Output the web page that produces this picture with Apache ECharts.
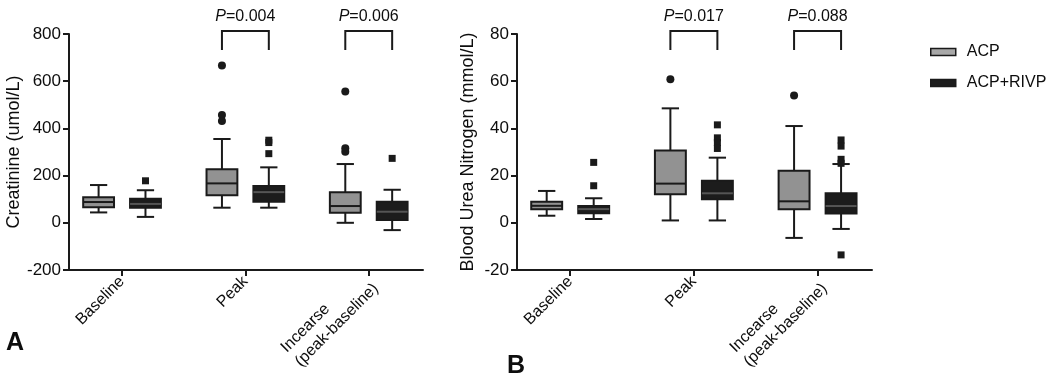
<!DOCTYPE html>
<html>
<head>
<meta charset="utf-8">
<script src="https://cdn.jsdelivr.net/npm/echarts@6/dist/echarts.min.js"></script>
<style>
  html, body { margin: 0; padding: 0; background: #fff; }
  #chart { width: 1049px; height: 381px; }
</style>
</head>
<body>
<div id="chart"></div>
<script>
const categories = ['Baseline', 'Peak', 'Incearse\n(peak-baseline)']

// boxes: [min, Q1, median, Q3, max] for each category
const creaAcp = [[44, 66, 88, 108, 160], [64, 117, 167, 227, 355], [0, 43, 71, 129, 249]]
const creaRivp = [[25, 64, 80, 102, 138], [64, 89, 130, 156, 235], [-31, 12, 47, 89, 140]]
const bunAcp = [[3.0, 5.7, 7.2, 8.9, 13.5], [1.0, 12.1, 16.6, 30.6, 48.5], [-6.4, 5.7, 9.1, 22.1, 41.0]]
const bunRivp = [[1.6, 4.0, 5.8, 7.1, 10.4], [1.0, 10.0, 12.5, 17.8, 27.6], [-2.6, 3.9, 7.1, 12.5, 24.9]]

// outliers: [category index, value]
const creaAcpOut = [[1, 667], [1, 457], [1, 431], [2, 556], [2, 316], [2, 301]]
const creaRivpOut = [[0, 178], [1, 350], [1, 340], [1, 293], [2, 273]]
const bunAcpOut = [[1, 60.8], [2, 53.9]]
const bunRivpOut = [[0, 25.6], [0, 15.7], [1, 41.5], [1, 36], [1, 34], [1, 31.5],
  [2, 35.1], [2, 32.5], [2, 26.9], [2, 25.2], [2, -13.6]]

// p values: [category index, text]
const creaP = [[1, '0.004'], [2, '0.006']]
const bunP = [[1, '0.017'], [2, '0.088']]

const FONT = 'Liberation Sans, Arial, Helvetica, sans-serif'
const INK = '#1a1a1a'
const TXT = '#0d0d0d'
const OFFSET = 0.19   // group offset from category centre, axis units
const BOX_W = 0.25
const CAP_W = 0.14

const chart = echarts.init(document.getElementById('chart'))

function boxRender(offset, fill, medianColor) {
  return (params, api) => {
    const x = api.value(0) + offset
    const p = (v) => api.coord([x, v])
    const left = api.coord([x - BOX_W / 2, 0])[0]
    const right = api.coord([x + BOX_W / 2, 0])[0]
    const capL = api.coord([x - CAP_W / 2, 0])[0]
    const capR = api.coord([x + CAP_W / 2, 0])[0]
    const pMin = p(api.value(1)), pQ1 = p(api.value(2)), pMed = p(api.value(3))
    const pQ3 = p(api.value(4)), pMax = p(api.value(5))
    const ln = { stroke: INK, lineWidth: 2 }
    return {
      type: 'group',
      children: [
        { type: 'line', shape: { x1: pMin[0], y1: pMin[1], x2: pQ1[0], y2: pQ1[1] }, style: ln },
        { type: 'line', shape: { x1: pQ3[0], y1: pQ3[1], x2: pMax[0], y2: pMax[1] }, style: ln },
        { type: 'line', shape: { x1: capL, y1: pMin[1], x2: capR, y2: pMin[1] }, style: ln },
        { type: 'line', shape: { x1: capL, y1: pMax[1], x2: capR, y2: pMax[1] }, style: ln },
        {
          type: 'rect',
          shape: { x: left, y: pQ3[1], width: right - left, height: pQ1[1] - pQ3[1] },
          style: { fill: fill, stroke: INK, lineWidth: 2 }
        },
        { type: 'line', shape: { x1: left, y1: pMed[1], x2: right, y2: pMed[1] }, style: { stroke: medianColor, lineWidth: 2 } }
      ]
    }
  }
}

function bracketRender(pList) {
  return (params, api) => {
    const c = api.value(0)
    const xL = api.coord([c - OFFSET, 0])[0]
    const xR = api.coord([c + OFFSET, 0])[0]
    const top = params.coordSys.y - 3
    const bottom = params.coordSys.y + 16
    const ln = { stroke: INK, lineWidth: 2, fill: null }
    return {
      type: 'group',
      children: [
        { type: 'polyline', shape: { points: [[xL, bottom], [xL, top], [xR, top], [xR, bottom]] }, style: ln },
        {
          type: 'text',
          x: (xL + xR) / 2,
          y: params.coordSys.y - 17,
          style: {
            text: '{i|P}{n|=' + pList[params.dataIndex][1] + '}',
            align: 'center',
            verticalAlign: 'middle',
            fontSize: 16,
            fontFamily: FONT,
            fill: TXT,
            rich: {
              i: { fontStyle: 'italic', fontSize: 16, fontFamily: FONT, fill: TXT },
              n: { fontSize: 16, fontFamily: FONT, fill: TXT }
            }
          }
        }
      ]
    }
  }
}

function xAxis(gridIndex) {
  return {
    type: 'value',
    gridIndex: gridIndex,
    min: -0.43,
    max: 2.44,
    splitLine: { show: false },
    axisLine: { show: true, onZero: false, lineStyle: { color: INK, width: 2 } },
    axisTick: { show: true, length: 6, customValues: [0, 1, 2], lineStyle: { color: INK, width: 2 } },
    axisLabel: {
      customValues: [0, 1, 2],
      rotate: 45,
      margin: 9,
      fontSize: 16,
      fontFamily: FONT,
      color: TXT,
      lineHeight: 20,
      formatter: (v) => categories[Math.round(v)].split('\n').map((s) => '{l|' + s + '}').join('\n'),
      rich: { l: { align: 'left', fontSize: 16, fontFamily: FONT, color: TXT, lineHeight: 20 } }
    }
  }
}

function yAxis(gridIndex, min, max, interval, name, nameGap) {
  return {
    type: 'value',
    gridIndex: gridIndex,
    min: min,
    max: max,
    interval: interval,
    name: name,
    nameLocation: 'middle',
    nameGap: nameGap,
    nameMoveOverlap: false,
    nameTextStyle: { fontSize: 18, fontFamily: FONT, color: TXT },
    splitLine: { show: false },
    axisLine: { show: true, onZero: false, lineStyle: { color: INK, width: 2 } },
    axisTick: { show: true, length: 6, lineStyle: { color: INK, width: 2 } },
    axisLabel: { fontSize: 17, fontFamily: FONT, color: TXT, margin: 8 }
  }
}

function panelSeries(idx, acp, rivp, acpOut, rivpOut, pList) {
  return [
    {
      name: 'ACP', type: 'custom', xAxisIndex: idx, yAxisIndex: idx,
      itemStyle: { color: '#969696' },
      encode: { x: 0, y: [1, 2, 3, 4, 5] },
      data: acp.map((r, i) => [i].concat(r)),
      renderItem: boxRender(-OFFSET, '#929292', INK)
    },
    {
      name: 'ACP+RIVP', type: 'custom', xAxisIndex: idx, yAxisIndex: idx,
      itemStyle: { color: '#1c1c1c' },
      encode: { x: 0, y: [1, 2, 3, 4, 5] },
      data: rivp.map((r, i) => [i].concat(r)),
      renderItem: boxRender(OFFSET, '#1c1c1c', '#555')
    },
    {
      name: 'ACP', type: 'scatter', xAxisIndex: idx, yAxisIndex: idx,
      symbol: 'circle', symbolSize: 8,
      itemStyle: { color: INK, opacity: 1 },
      data: acpOut.map((d) => [d[0] - OFFSET, d[1]])
    },
    {
      name: 'ACP+RIVP', type: 'scatter', xAxisIndex: idx, yAxisIndex: idx,
      symbol: 'rect', symbolSize: 7,
      itemStyle: { color: INK, opacity: 1 },
      data: rivpOut.map((d) => [d[0] + OFFSET, d[1]])
    },
    {
      type: 'custom', xAxisIndex: idx, yAxisIndex: idx, clip: false, silent: true,
      data: pList.map((d) => [d[0]]),
      renderItem: bracketRender(pList)
    }
  ]
}

const option = {
  backgroundColor: '#fff',
  animation: false,
  grid: [
    { left: 69, right: 626, top: 34, bottom: 111, outerBoundsMode: 'none' },
    { left: 517, right: 177, top: 34, bottom: 111, outerBoundsMode: 'none' }
  ],
  legend: {
    orient: 'vertical',
    left: 925,
    top: 38,
    itemWidth: 25,
    itemHeight: 7,
    itemGap: 13,
    selectedMode: false,
    textStyle: { fontSize: 16, fontFamily: FONT, color: TXT, lineHeight: 18, padding: [0, 0, 0, 6] },
    data: [
      { name: 'ACP', icon: 'rect', itemStyle: { color: '#a8a8a8', borderColor: INK, borderWidth: 1.5 } },
      { name: 'ACP+RIVP', icon: 'rect', itemStyle: { color: '#1c1c1c', borderColor: INK, borderWidth: 1.5 } }
    ]
  },
  xAxis: [xAxis(0), xAxis(1)],
  yAxis: [
    yAxis(0, -200, 800, 200, 'Creatinine (umol/L)', 46),
    yAxis(1, -20, 80, 20, 'Blood Urea Nitrogen (mmol/L)', 40)
  ],
  series: [].concat(
    panelSeries(0, creaAcp, creaRivp, creaAcpOut, creaRivpOut, creaP),
    panelSeries(1, bunAcp, bunRivp, bunAcpOut, bunRivpOut, bunP)
  ),
  graphic: [
    { type: 'text', left: 6, top: 331, style: { text: 'A', fontSize: 25, fontWeight: 'bold', fontFamily: FONT, fill: TXT } },
    { type: 'text', left: 507, top: 354, style: { text: 'B', fontSize: 25, fontWeight: 'bold', fontFamily: FONT, fill: TXT } }
  ]
}

chart.setOption(option)
</script>
</body>
</html>
